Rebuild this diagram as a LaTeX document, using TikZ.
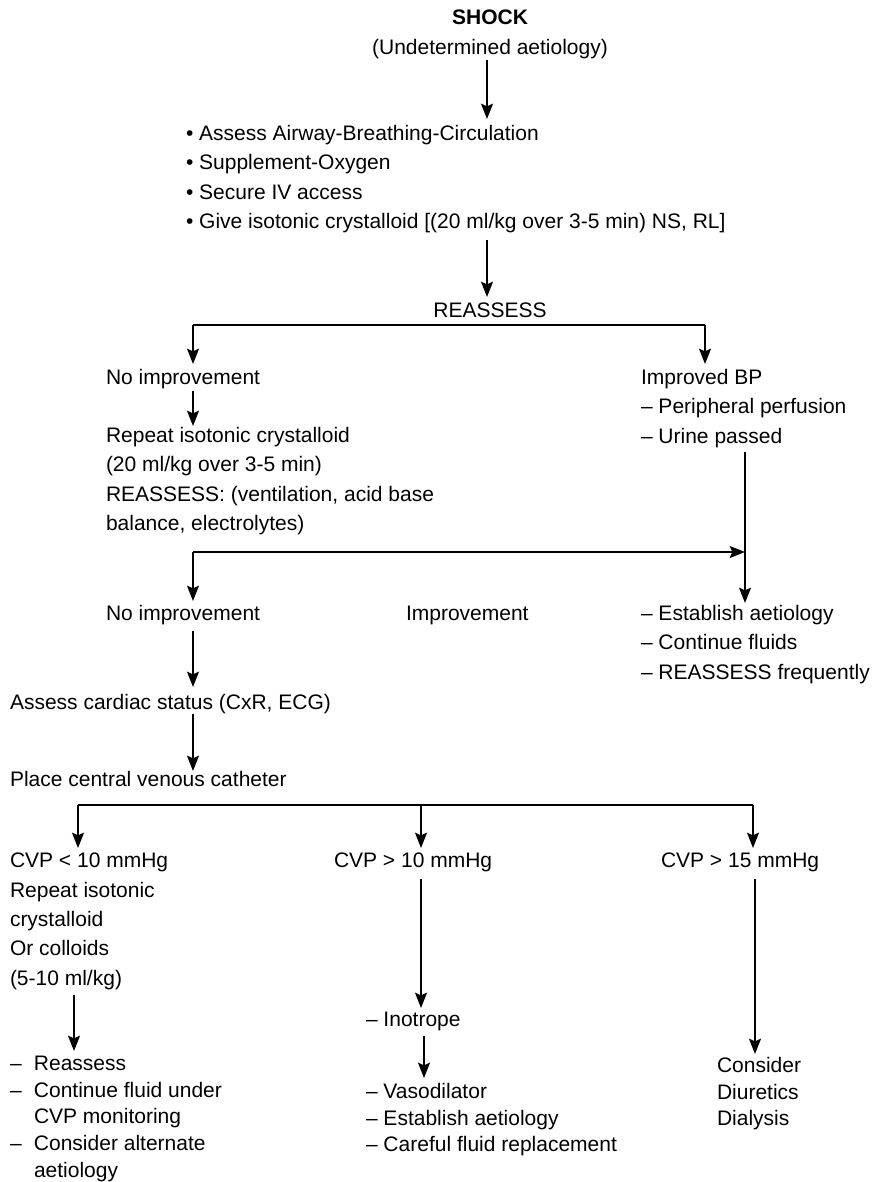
\documentclass[tikz,border=0pt]{standalone}
\usepackage{fontspec}
\setmainfont{Liberation Sans}
\usetikzlibrary{arrows.meta}
\begin{document}
\begin{tikzpicture}[x=0.75pt,y=-0.75pt,
  % text blocks are placed by the baseline of their last line
  txt/.style={anchor=base west, inner sep=0pt, outer sep=0pt, align=left,
    font=\fontsize{15.75}{22.1}\selectfont},
  tight/.style={txt, font=\fontsize{15.75}{20.0}\selectfont},
  ctr/.style={txt, anchor=base, align=center},
  wire/.style={line width=1.15pt},
  flow/.style={wire, -{Stealth[length=11.5pt,width=9pt,inset=2pt]}}
]
\useasboundingbox (0,0) rectangle (872,1182);

% ---- top: shock and first measures
\node[ctr] (shock) at (490,24.5) {\bfseries SHOCK};
\node[ctr] (undet) at (490,54.5) {(Undetermined aetiology)};
\node[txt] (abc) at (186,228.9) {%
  \textbullet\ Assess Airway-Breathing-Circulation\\
  \textbullet\ Supplement-Oxygen\\
  \textbullet\ Secure IV access\\
  \textbullet\ Give isotonic crystalloid [(20 ml/kg over 3-5 min) NS, RL]};
\node[ctr] (re1) at (490,317.5) {REASSESS};

\coordinate (a1s) at (487,60);   \coordinate (a1e) at (487,119);
\coordinate (a2s) at (487,240);  \coordinate (a2e) at (487,297);
\draw[flow] (a1s) -- (a1e);
\draw[flow] (a2s) -- (a2e);

% ---- first reassessment branches
\coordinate (b1l) at (193,325);  \coordinate (b1r) at (705,325);
\coordinate (b1le) at (193,364); \coordinate (b1re) at (705,364);
\draw[wire] (b1l) -- (b1r);
\draw[flow] (b1l) -- (b1le);
\draw[flow] (b1r) -- (b1re);

\node[txt] (noimp1) at (106,384.5) {No improvement};
\node[txt] (impbp) at (641,443.4) {Improved BP\\– Peripheral perfusion\\– Urine passed};

\coordinate (a3s) at (193,391);  \coordinate (a3e) at (193,426);
\draw[flow] (a3s) -- (a3e);
\node[txt] (repeat1) at (106,530.9) {Repeat isotonic crystalloid\\(20 ml/kg over 3-5 min)\\REASSESS: (ventilation, acid base\\balance, electrolytes)};

% ---- second reassessment
\coordinate (rv) at (745,452);   \coordinate (rve) at (745,603);
\draw[flow] (rv) -- (rve);
\coordinate (h2l) at (193,552);  \coordinate (h2r) at (745,552);
\coordinate (h2le) at (193,601);
\draw[flow] (h2l) -- (h2r);
\draw[flow] (h2l) -- (h2le);

\node[txt] (noimp2) at (106,620.5) {No improvement};
\node[txt] (imp2) at (406,620.5) {Improvement};
\node[txt] (estab) at (641,679.4) {– Establish aetiology\\– Continue fluids\\– REASSESS frequently};

\coordinate (a4s) at (193,631);  \coordinate (a4e) at (193,687);
\draw[flow] (a4s) -- (a4e);
\node[txt] (cardiac) at (10,709.5) {Assess cardiac status (CxR, ECG)};
\coordinate (a5s) at (193,714);  \coordinate (a5e) at (193,771);
\draw[flow] (a5s) -- (a5e);
\node[txt] (cvc) at (10,786.5) {Place central venous catheter};

% ---- CVP branches
\coordinate (c3l) at (78,805);   \coordinate (c3m) at (421,805);  \coordinate (c3r) at (753,805);
\coordinate (c3le) at (78,848);  \coordinate (c3me) at (421,848); \coordinate (c3re) at (753,848);
\draw[wire] (c3l) -- (c3r);
\draw[flow] (c3l) -- (c3le);
\draw[flow] (c3m) -- (c3me);
\draw[flow] (c3r) -- (c3re);

\node[txt] (cvplo) at (10,985.4) {CVP < 10 mmHg\\Repeat isotonic\\crystalloid\\Or colloids\\(5-10 ml/kg)};
\node[txt] (cvpmid) at (334,867.5) {CVP > 10 mmHg};
\node[txt] (cvphi) at (661,867.5) {CVP > 15 mmHg};

% left column
\coordinate (l1s) at (74,995);   \coordinate (l1e) at (74,1051);
\draw[flow] (l1s) -- (l1e);
\node[tight] (lowact) at (10,1177) {%
  \makebox[18pt][l]{–}Reassess\\
  \makebox[18pt][l]{–}Continue fluid under\\
  \makebox[18pt][l]{}CVP monitoring\\
  \makebox[18pt][l]{–}Consider alternate\\
  \makebox[18pt][l]{}aetiology};

% middle column
\coordinate (m1s) at (421,879);  \coordinate (m1e) at (421,1008);
\draw[flow] (m1s) -- (m1e);
\node[txt] (inotrope) at (366,1026.5) {– Inotrope};
\coordinate (m2s) at (424,1036); \coordinate (m2e) at (424,1078);
\draw[flow] (m2s) -- (m2e);
\node[tight] (midact) at (366,1151.7) {– Vasodilator\\– Establish aetiology\\– Careful fluid replacement};

% right column
\coordinate (r1s) at (755,879);  \coordinate (r1e) at (755,1054);
\draw[flow] (r1s) -- (r1e);
\node[tight] (hiact) at (717,1125.9) {Consider\\Diuretics\\Dialysis};
\end{tikzpicture}
\end{document}
